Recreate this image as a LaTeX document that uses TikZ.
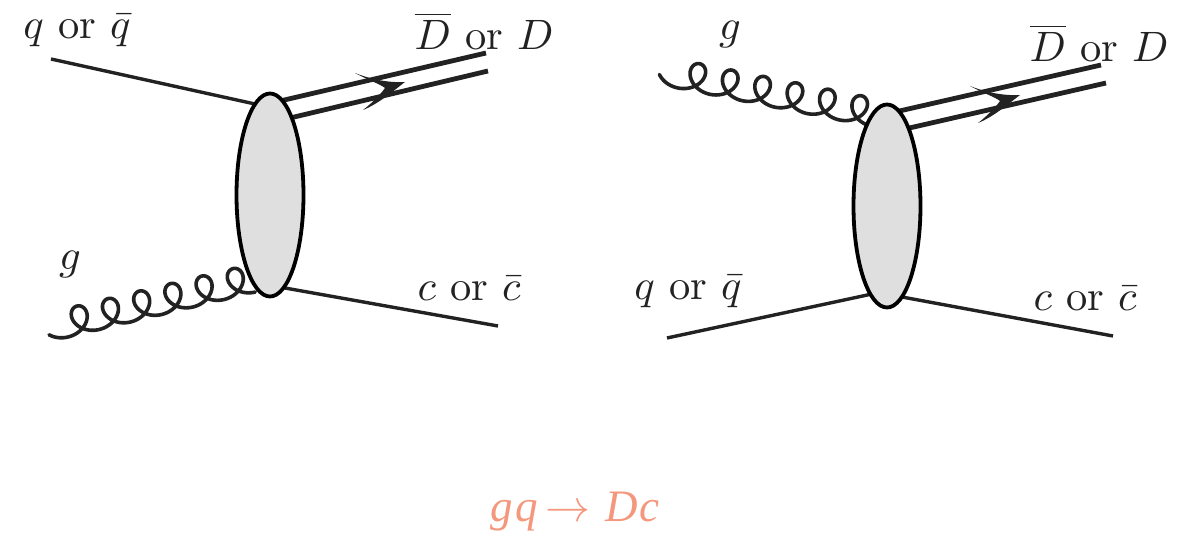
\documentclass[tikz,border=0pt]{standalone}
\usepackage{fontspec}
\usetikzlibrary{shapes.geometric}
\newfontfamily\labfont{Liberation Serif}
\definecolor{ink}{HTML}{222222}
\definecolor{blob}{HTML}{DFDFDF}
\definecolor{salmon}{HTML}{F4977C}
\tikzset{
  x=1pt,y=-1pt,
  line/.style={ink,line width=3.4pt},
  dline/.style={ink,line width=4.8pt},
  blobnode/.style={shape=ellipse,draw=black,fill=blob,line width=3.8pt,minimum width=67pt,minimum height=203pt,inner sep=0pt},
  gluon/.style={ink,line width=3.6pt,line join=round,line cap=round},
  lab/.style={inner sep=0pt,text=ink,scale=4.25},
  head/.style={ink,fill=ink,line width=0.5pt}
}
\newcommand{\gluonplot}[4]{% start point, rotation, pitch, first angle
  \begin{scope}[shift={(#1)},rotate=#2]
  \draw[gluon] plot[domain=#4:2160,samples=500] ({#3*(\x/360)+15*sin(\x)},{-14*(1-cos(\x))});
  \end{scope}}
\begin{document}
\begin{tikzpicture}
\useasboundingbox (0,0) rectangle (1183,537);
% left diagram
\coordinate (qa) at (51,59);
\coordinate (qb) at (255,104);
\coordinate (ca) at (285,288);
\coordinate (cb) at (498,326);
\coordinate (da) at (280,101);
\coordinate (db) at (486,53);
\coordinate (ea) at (290,118);
\coordinate (eb) at (488,71);
\coordinate (g1) at (68,337);
\draw[line] (qa) -- (qb);
\draw[line] (ca) -- (cb);
\draw[dline] (da) -- (db);
\draw[dline] (ea) -- (eb);
\gluonplot{g1}{13.5}{32.1}{-58}
\node[blobnode] (e1) at (270,195) {};
\coordinate (t1) at (405,82);
\coordinate (u1) at (355,73);
\coordinate (v1) at (385,88);
\coordinate (w1) at (363,110);
\fill[head] (t1) .. controls (388,83) and (370,79) .. (u1) .. controls (368,80) and (380,84) .. (v1) .. controls (380,95) and (372,103) .. (w1) .. controls (378,104) and (392,92) .. (t1) -- cycle;
\node[lab] (l1) at (77,31) {$q$ or $\bar q$};
\node[lab] (l2) at (484,31) {$\overline{D}$ or $D$};
\node[lab] (l3) at (70,264) {$g$};
\node[lab] (l4) at (469,289) {$c$ or $\bar c$};
% right diagram
\coordinate (qc) at (667,338);
\coordinate (qd) at (872,294);
\coordinate (cc) at (902,297);
\coordinate (cd) at (1113,336);
\coordinate (dc) at (895,112);
\coordinate (dd) at (1101,65);
\coordinate (ec) at (905,129);
\coordinate (ed) at (1106,83);
\coordinate (g2) at (678,88);
\draw[line] (qc) -- (qd);
\draw[line] (cc) -- (cd);
\draw[dline] (dc) -- (dd);
\draw[dline] (ec) -- (ed);
\gluonplot{g2}{-11.2}{33}{-72}
\node[blobnode] (e2) at (887,206) {};
\begin{scope}[shift={(615,13)}]
\fill[head] (405,82) .. controls (388,83) and (370,79) .. (355,73) .. controls (368,80) and (380,84) .. (385,88) .. controls (380,95) and (372,103) .. (363,110) .. controls (378,104) and (392,92) .. (405,82) -- cycle;
\end{scope}
\node[lab] (r1) at (730,34) {$g$};
\node[lab] (r2) at (1099,43) {$\overline{D}$ or $D$};
\node[lab] (r3) at (688,292) {$q$ or $\bar q$};
\node[lab] (r4) at (1085,299) {$c$ or $\bar c$};
\node[inner sep=0pt,text=salmon,scale=4.5] (cap) at (575,512) {\labfont\itshape g\kern.5pt q\,$\rightarrow$\,\,D\kern.5pt c};
\end{tikzpicture}
\end{document}
